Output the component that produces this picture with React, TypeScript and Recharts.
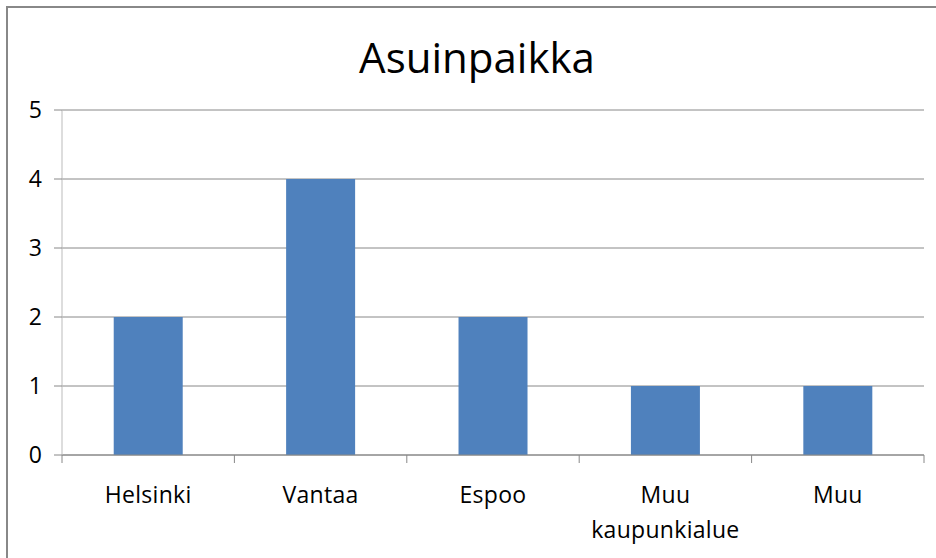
import { BarChart, Bar, XAxis, YAxis, CartesianGrid } from 'recharts';

const categories = ['Helsinki', 'Vantaa', 'Espoo', 'Muu kaupunkialue', 'Muu'];
const labelLines = [['Helsinki'], ['Vantaa'], ['Espoo'], ['Muu', 'kaupunkialue'], ['Muu']];
const counts = [2, 4, 2, 1, 1];
const yTicks = [0, 1, 2, 3, 4, 5];

const data = categories.map((name, i) => ({ name, value: counts[i] }));

const W = 936;
const H = 558;
const PLOT_LEFT = 62;
const PLOT_RIGHT = 12;
const FONT = '"Open Sans", sans-serif';
const BAND = (W - PLOT_LEFT - PLOT_RIGHT) / categories.length;

// tick marks sit on category boundaries, labels at the centre
const CategoryTick = ({ x, y, index }: any) => {
  const lines = labelLines[index] || [];
  const half = BAND / 2;
  return (
    <g>
      <line x1={x - half} y1={y} x2={x - half} y2={y + 8} stroke="#888" strokeWidth={1} />
      {index === categories.length - 1 && (
        <line x1={x + half} y1={y} x2={x + half} y2={y + 8} stroke="#888" strokeWidth={1} />
      )}
      <text x={x} y={y + 48} textAnchor="middle" fontSize={23} fill="#000" fontFamily={FONT} letterSpacing={0.3}>
        {lines.map((l: string, i: number) => (
          <tspan key={i} x={x} dy={i === 0 ? 0 : 35}>{l}</tspan>
        ))}
      </text>
    </g>
  );
};

export default function App() {
  return (
    <div style={{ position: 'absolute', left: 0, top: 0, width: W, height: H, overflow: 'hidden', background: '#fff' }}>
      <div
        style={{
          position: 'absolute', left: 6, top: 6, width: 940, height: 560,
          border: '2px solid #888', boxSizing: 'border-box',
        }}
      />
      <div style={{ position: 'absolute', left: 0, top: 0 }}>
        <BarChart
          width={W}
          height={H}
          data={data}
          margin={{ top: 110, right: PLOT_RIGHT, left: 0, bottom: 43 }}
          barCategoryGap="30%"
        >
          <text x={477} y={73} textAnchor="middle" fontSize={42} fontFamily={FONT} fill="#000">
            Asuinpaikka
          </text>
          <CartesianGrid vertical={false} stroke="#888" />
          <XAxis
            dataKey="name"
            height={60}
            interval={0}
            tickLine={false}
            tickSize={0}
            tickMargin={0}
            axisLine={{ stroke: '#888' }}
            tick={<CategoryTick />}
          />
          <YAxis
            width={PLOT_LEFT}
            domain={[0, 5]}
            ticks={yTicks}
            interval={0}
            tickSize={8}
            tickMargin={12}
            tickLine={{ stroke: '#888' }}
            axisLine={{ stroke: '#bbb' }}
            tick={{ fontSize: 23, fill: '#000', fontFamily: FONT }}
          />
          <Bar dataKey="value" fill="#4F81BD" isAnimationActive={false} />
        </BarChart>
      </div>
    </div>
  );
}
